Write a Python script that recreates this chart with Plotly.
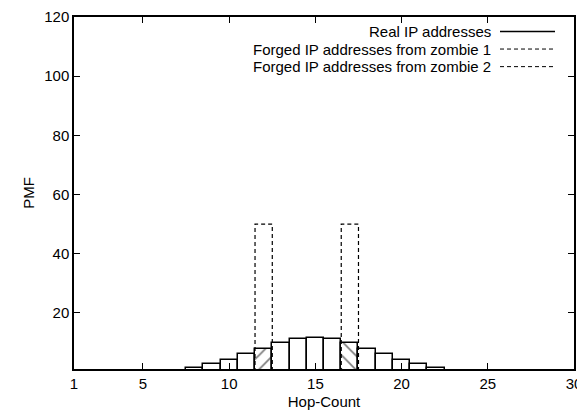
import plotly.graph_objects as go

# ---- data ----
hop_counts = [8, 9, 10, 11, 12, 13, 14, 15, 16, 17, 18, 19, 20, 21, 22]
real_pmf = [1.5, 2.6, 4.1, 6.0, 7.9, 9.7, 11.0, 11.4, 11.0, 9.7, 7.9, 6.0, 4.1, 2.6, 1.5]
zombie1_hops = [12]
zombie1_pmf = [50]
zombie2_hops = [17]
zombie2_pmf = [50]
x_ticks = [1, 5, 10, 15, 20, 25, 30]
y_ticks = [20, 40, 60, 80, 100, 120]
legend_labels = ["Real IP addresses",
                 "Forged IP addresses from zombie 1",
                 "Forged IP addresses from zombie 2"]

FONT = "Liberation Sans, Arial, Helvetica, sans-serif"
BAR_W = 1.0


def outline(xs, ys, w):
    px, py = [], []
    for x, y in zip(xs, ys):
        px += [x - w / 2, x - w / 2, x + w / 2, x + w / 2, None]
        py += [0, y, y, 0, None]
    return px, py


shapes_pattern = []
for h in hop_counts:
    if h in zombie1_hops:
        shapes_pattern.append("/")
    elif h in zombie2_hops:
        shapes_pattern.append("\\")
    else:
        shapes_pattern.append("")

fig = go.Figure()
fig.add_trace(go.Bar(
    x=hop_counts, y=real_pmf, width=BAR_W,
    marker=dict(color="white", line=dict(color="black", width=1.5),
                pattern=dict(shape=shapes_pattern, fgcolor="black", bgcolor="white",
                             size=10, solidity=0.18)),
    showlegend=False, name=legend_labels[0]))

for hops, pmf, name in [(zombie1_hops, zombie1_pmf, legend_labels[1]),
                        (zombie2_hops, zombie2_pmf, legend_labels[2])]:
    px, py = outline(hops, pmf, BAR_W)
    fig.add_trace(go.Scatter(x=px, y=py, mode="lines",
                             line=dict(color="black", width=1.2, dash="4px,3px"),
                             showlegend=False, name=name))

# manual gnuplot-style key (text, then sample)
rows_y = [0.959, 0.909, 0.859]
dashes = ["solid", "4px,3px", "4px,3px"]
widths = [1.5, 1, 1]
for lab, yy, d, lw in zip(legend_labels, rows_y, dashes, widths):
    fig.add_annotation(x=0.838, y=yy, xref="paper", yref="paper", text=lab,
                       showarrow=False, xanchor="right", yanchor="middle",
                       font=dict(family=FONT, size=15, color="black"))
    fig.add_shape(type="line", xref="paper", yref="paper", x0=0.852, x1=0.962,
                  y0=yy, y1=yy, line=dict(color="black", width=lw, dash=d))

axis_common = dict(showline=True, linecolor="black", linewidth=1.5, mirror="ticks",
                   ticks="inside", ticklen=6, tickwidth=1, tickcolor="black",
                   showgrid=False, zeroline=False, automargin=False,
                   tickfont=dict(family=FONT, size=15, color="black"))

fig.update_xaxes(range=[1, 30], tickvals=x_ticks,
                 title=dict(text="Hop-Count", font=dict(family=FONT, size=15, color="black"),
                            standoff=6),
                 **axis_common)
fig.update_yaxes(range=[1, 120], tickvals=y_ticks,
                 title=dict(text="PMF", font=dict(family=FONT, size=15, color="black"),
                            standoff=6),
                 **axis_common)

# the page body adds an 8px offset, so the figure is 8px smaller
fig.update_layout(width=577, height=407, margin=dict(l=66, r=11, t=9, b=46),
                  plot_bgcolor="white", paper_bgcolor="white", bargap=0,
                  font=dict(family=FONT, size=15, color="black"))

fig.write_html("out.html")
